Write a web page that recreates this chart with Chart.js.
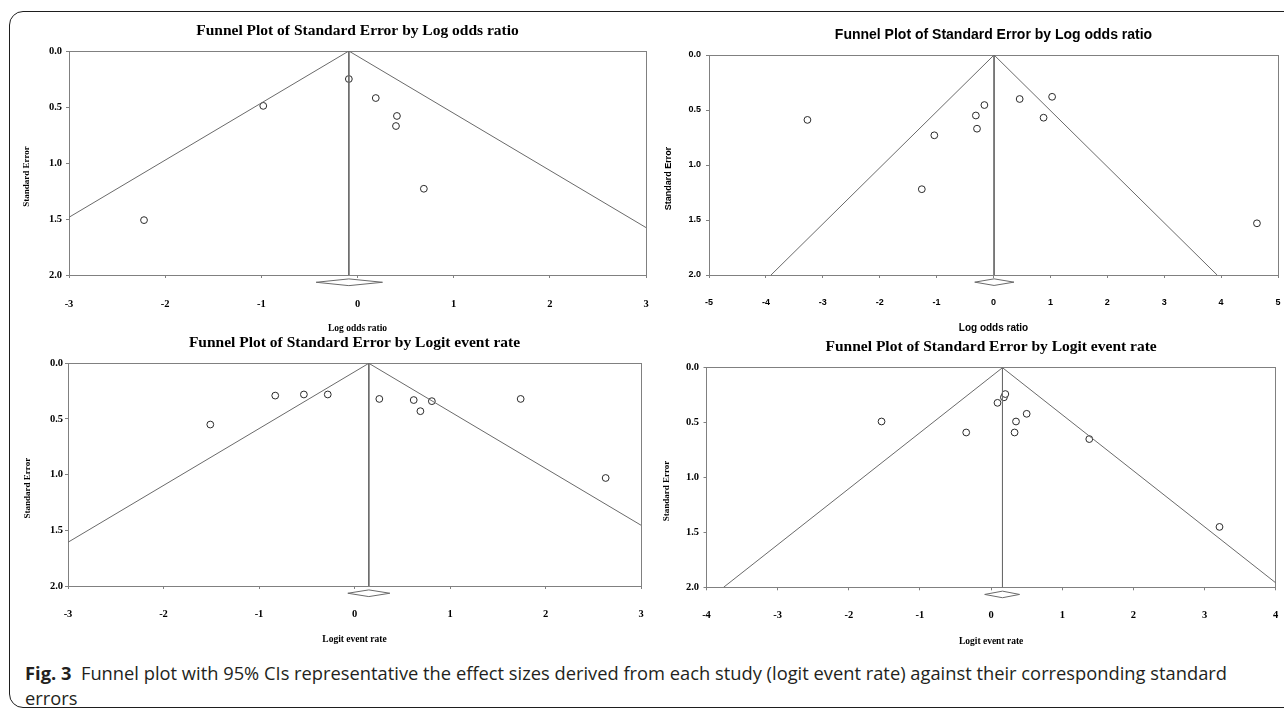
<!DOCTYPE html>
<html>
<head>
<meta charset="utf-8">
<script src="https://cdn.jsdelivr.net/npm/chart.js@4.4.1/dist/chart.umd.min.js"></script>
<style>
html,body{margin:0;padding:0;background:#fff;width:1284px;height:710px;overflow:hidden;position:relative;}
canvas{position:absolute;}
#frame{position:absolute;left:9px;top:11px;width:1300px;height:697px;border:1.5px solid #1e1e1e;border-radius:14px;box-sizing:border-box;}
#caption{position:absolute;left:25px;top:661px;font-family:"Open Sans","Noto Sans",sans-serif;font-size:18px;line-height:25px;color:#231f20;white-space:nowrap;transform-origin:0 0;}
#caption b{font-weight:700;}
</style>
</head>
<body>
<div id="frame"></div>
<canvas id="c1"></canvas>
<canvas id="c2"></canvas>
<canvas id="c3"></canvas>
<canvas id="c4"></canvas>
<div id="caption"><span id="capline"><b>Fig. 3</b>&nbsp; Funnel plot with 95% CIs representative the effect sizes derived from each study (logit event rate) against their corresponding standard</span><br>errors</div>
<script>
// ---------------- DATA ----------------
// Panel 1 (top-left): Log odds ratio
const p1Effect = [-0.09, -0.98, 0.19, 0.41, 0.40, 0.69, -2.22];
const p1SE     = [0.25, 0.49, 0.42, 0.58, 0.67, 1.23, 1.51];
const p1Pooled = [-0.09, -0.43, 0.26];          // estimate, lower, upper
const p1XTicks = [-3, -2, -1, 0, 1, 2, 3];

// Panel 2 (top-right): Log odds ratio
const p2Effect = [-3.27, -1.04, -1.26, -0.16, -0.31, -0.29, 0.46, 1.03, 0.88, 4.63];
const p2SE     = [0.59, 0.73, 1.22, 0.455, 0.55, 0.67, 0.40, 0.38, 0.57, 1.53];
const p2Pooled = [0.01, -0.33, 0.36];
const p2XTicks = [-5, -4, -3, -2, -1, 0, 1, 2, 3, 4, 5];

// Panel 3 (bottom-left): Logit event rate
const p3Effect = [-1.51, -0.83, -0.53, -0.28, 0.26, 0.62, 0.69, 0.81, 1.74, 2.63];
const p3SE     = [0.55, 0.29, 0.28, 0.28, 0.32, 0.33, 0.43, 0.34, 0.32, 1.03];
const p3Pooled = [0.15, -0.07, 0.37];
const p3XTicks = [-3, -2, -1, 0, 1, 2, 3];

// Panel 4 (bottom-right): Logit event rate
const p4Effect = [-1.54, -0.35, 0.09, 0.18, 0.20, 0.35, 0.50, 0.33, 1.38, 3.21];
const p4SE     = [0.49, 0.59, 0.32, 0.27, 0.24, 0.49, 0.42, 0.59, 0.65, 1.45];
const p4Pooled = [0.16, -0.09, 0.40];
const p4XTicks = [-4, -3, -2, -1, 0, 1, 2, 3, 4];

const yTickValues = [0, 0.5, 1.0, 1.5, 2.0];
const yTickLabels = ['0.0', '0.5', '1.0', '1.5', '2.0'];

const titleLOR = 'Funnel Plot of Standard Error by Log odds ratio';
const titleLER = 'Funnel Plot of Standard Error by Logit event rate';
const xTitleLOR = 'Log odds ratio';
const xTitleLER = 'Logit event rate';
const yTitle = 'Standard Error';

// ---------------- STYLE / LAYOUT ----------------
const FRAME = '#808080';
const LINE = '#6a6a6a';
const TL = 3;              // tick mark length
const DIAMOND_Y = 2.065;   // vertical level of summary diamond (below axis)
const DIAMOND_H = 0.03;
const Z = 1.96;

const SERIF = {family:'"Liberation Serif","Times New Roman",serif', title:15.5, tick:10.5, xTitle:9.5, yTitle:9};
const SANS  = {family:'"Liberation Sans",Arial,sans-serif', title:14, tick:9, xTitle:10, yTitle:9};

function zeroPad(s) { s.paddingLeft = 0; s.paddingRight = 0; s.paddingTop = 0; s.paddingBottom = 0; }

function makePanel(id, L, d) {
  const c = document.getElementById(id);
  c.width = L.box.w; c.height = L.box.h;
  c.style.left = L.box.x + 'px'; c.style.top = L.box.y + 'px';
  const F = d.font;
  const est = d.pooled[0];
  const seMax = yTickValues[yTickValues.length - 1];
  const tLh = F.title * 1.2;
  const titlePadTop = L.titleY - L.box.y - tLh / 2;
  const titlePadBottom = L.area.t - L.box.y - titlePadTop - tLh;
  const xTickPad = L.xTickY - L.area.b - TL - 0.6 * F.tick;
  const xTitlePadBottom = L.box.y + L.box.h - L.xTitleY - 0.6 * F.xTitle;
  const yTickPad = L.area.l - TL - L.yTickRight;
  const yTitlePadTop = L.yTitleX - L.box.x - 0.6 * F.yTitle;
  const xMin = d.xTicks[0], xMax = d.xTicks[d.xTicks.length - 1];

  const lineDs = {showLine:true, pointRadius:0, pointHoverRadius:0, borderColor:LINE, borderWidth:1, fill:false};
  const datasets = [
    Object.assign({}, lineDs, {data:[{x:est, y:0}, {x:est - Z * seMax, y:seMax}]}),
    Object.assign({}, lineDs, {data:[{x:est, y:0}, {x:est + Z * seMax, y:seMax}]}),
    Object.assign({}, lineDs, {data:[{x:est, y:0}, {x:est, y:seMax}]}),
    Object.assign({}, lineDs, {clip:false, data:[
      {x:d.pooled[1], y:DIAMOND_Y}, {x:est, y:DIAMOND_Y - DIAMOND_H},
      {x:d.pooled[2], y:DIAMOND_Y}, {x:est, y:DIAMOND_Y + DIAMOND_H},
      {x:d.pooled[1], y:DIAMOND_Y}]}),
    {data:d.effect.map((x, i) => ({x:x, y:d.se[i]})), showLine:false, pointStyle:'circle',
     pointRadius:3.4, pointHoverRadius:3.4, borderColor:'#2a2a2a', backgroundColor:'#ffffff', pointBorderWidth:1, borderWidth:1}
  ];

  const fontOf = (size) => ({family:F.family, size:size, weight:'bold', lineHeight:1.2});

  new Chart(c, {
    type:'scatter',
    data:{datasets:datasets},
    options:{
      responsive:false, animation:false, events:[],
      layout:{padding:{left:0, top:0, bottom:0, right:L.box.x + L.box.w - L.area.r}},
      plugins:{
        legend:{display:false}, tooltip:{enabled:false},
        title:{display:true, fullSize:false, text:d.title, color:'#000', font:fontOf(F.title), padding:{top:titlePadTop, bottom:titlePadBottom}}
      },
      scales:{
        x:{type:'linear', position:'bottom', min:xMin, max:xMax,
           afterBuildTicks:(s) => { s.ticks = d.xTicks.map(v => ({value:v})); },
           afterFit:(s) => { s.height = L.box.y + L.box.h - L.area.b; zeroPad(s); },
           grid:{display:true, drawOnChartArea:false, drawTicks:true, tickLength:TL, color:FRAME, lineWidth:1},
           border:{display:true, color:FRAME, width:1},
           ticks:{autoSkip:false, maxRotation:0, padding:xTickPad, color:'#000', font:fontOf(F.tick),
                  callback:(v, i) => String(d.xTicks[i])},
           title:{display:true, text:d.xTitle, color:'#000', font:fontOf(F.xTitle), padding:{top:0, bottom:xTitlePadBottom}}
        },
        y:{type:'linear', position:'left', reverse:true, min:yTickValues[0], max:seMax,
           afterBuildTicks:(s) => { s.ticks = yTickValues.map(v => ({value:v})); },
           afterFit:(s) => { s.width = L.area.l - L.box.x; zeroPad(s); },
           grid:{display:true, drawOnChartArea:false, drawTicks:true, tickLength:TL, color:FRAME, lineWidth:1},
           border:{display:true, color:FRAME, width:1},
           ticks:{autoSkip:false, padding:yTickPad, color:'#000', font:fontOf(F.tick),
                  callback:(v, i) => yTickLabels[i]},
           title:{display:true, text:yTitle + '\u2002'.repeat(6), color:'#000', font:fontOf(F.yTitle), padding:{top:yTitlePadTop, bottom:0}}
        },
        x2:{type:'linear', position:'top', min:xMin, max:xMax,
            ticks:{display:false}, grid:{display:false, drawTicks:false},
            border:{display:true, color:FRAME, width:1},
            afterFit:(s) => { s.height = 0; zeroPad(s); }},
        y2:{type:'linear', position:'right', reverse:true, min:yTickValues[0], max:seMax,
            ticks:{display:false}, grid:{display:false, drawTicks:false},
            border:{display:true, color:FRAME, width:1},
            afterFit:(s) => { s.width = 0; zeroPad(s); }}
      }
    }
  });
}

makePanel('c1',
  {box:{x:0, y:0, w:660, h:345}, area:{l:69, r:646, t:51, b:275}, titleY:31, xTickY:304, xTitleY:329, yTickRight:62, yTitleX:27},
  {effect:p1Effect, se:p1SE, pooled:p1Pooled, xTicks:p1XTicks, title:titleLOR, xTitle:xTitleLOR, font:SERIF});
makePanel('c2',
  {box:{x:640, y:0, w:644, h:345}, area:{l:709, r:1278, t:55, b:275}, titleY:35, xTickY:302.7, xTitleY:328, yTickRight:701, yTitleX:668.7},
  {effect:p2Effect, se:p2SE, pooled:p2Pooled, xTicks:p2XTicks, title:titleLOR, xTitle:xTitleLOR, font:SANS});
makePanel('c3',
  {box:{x:0, y:325, w:660, h:330}, area:{l:68, r:641, t:363.3, b:586}, titleY:342.7, xTickY:614.3, xTitleY:640, yTickRight:63, yTitleX:27.4},
  {effect:p3Effect, se:p3SE, pooled:p3Pooled, xTicks:p3XTicks, title:titleLER, xTitle:xTitleLER, font:SERIF});
makePanel('c4',
  {box:{x:640, y:325, w:644, h:330}, area:{l:706.5, r:1275.7, t:367.7, b:587.3}, titleY:346.7, xTickY:615.7, xTitleY:641.7, yTickRight:699, yTitleX:666.7},
  {effect:p4Effect, se:p4SE, pooled:p4Pooled, xTicks:p4XTicks, title:titleLER, xTitle:xTitleLER, font:SERIF});

// Fit caption first line to its width in the reference
(function(){
  const w = document.getElementById('capline').getBoundingClientRect().width;
  document.getElementById('caption').style.transform = 'scaleX(' + (1202 / w) + ')';
})();
</script>
</body>
</html>
